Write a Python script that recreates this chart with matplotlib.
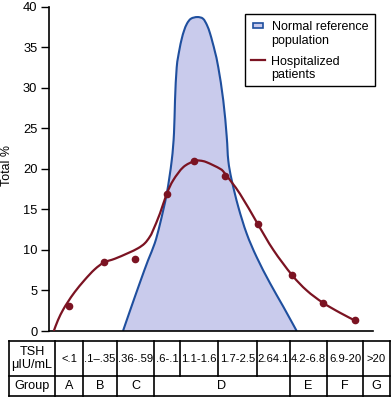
import matplotlib
matplotlib.use("Agg")
import matplotlib.pyplot as plt
from matplotlib.path import Path
from matplotlib.patches import PathPatch, Rectangle

plt.rcParams['font.family'] = ['Liberation Sans', 'DejaVu Sans']

# ---- data (x is position along the TSH axis, y is Total %) ----
normal_x = [123, 130, 140, 148, 154.7, 160, 166.7, 171.7, 174, 175, 176.7, 179.3, 181.7, 184,
            187, 191, 197.3, 203, 207, 210, 212.5, 215, 218.3, 223.3, 226.7, 228.3, 231.7,
            238.3, 246.7, 256.7, 270, 283.3, 296.7]
normal_y = [0, 2.5, 6.0, 8.7, 10.8, 13.2, 16.9, 21.0, 24.4, 28.4, 32.5, 34.6, 36.0, 37.0,
            37.9, 38.5, 38.7, 38.5, 37.7, 36.7, 35.6, 34.4, 32.5, 28.4, 24.0, 21.0, 18.6,
            15.3, 12.0, 9.1, 5.9, 3.0, 0]

hosp_pts_x = [69.3, 104.3, 135, 166.7, 194.3, 225, 257.7, 292, 322.7, 355.3]
hosp_pts_y = [3.1, 8.5, 8.9, 16.9, 21.0, 19.1, 13.2, 6.9, 3.5, 1.3]

trend_x = [53.8, 58, 63, 68, 74.7, 84.7, 94.7, 104, 114.7, 128, 138, 144.7, 149.7, 153, 160,
           166.7, 173.3, 183.3, 194.3, 200, 206.7, 220, 225, 240, 257.7, 273.3, 292, 306.7,
           322.7, 340, 355.3]
trend_y = [0, 1.35, 2.6, 3.6, 4.8, 6.3, 7.6, 8.45, 8.9, 9.6, 10.2, 10.8, 11.6, 12.4, 14.5,
           16.9, 18.6, 20.2, 20.95, 21.0, 20.8, 20.0, 19.4, 16.9, 13.2, 10.0, 6.9, 5.0,
           3.5, 2.25, 1.27]

tsh_labels = ["<.1", ".1\u2013.35", ".36-.59", ".6-.1", "1.1-1.6", "1.7-2.5", "2.64.1",
              "4.2-6.8", "6.9-20", ">20"]
group_labels = ["A", "B", "C", "D", "E", "F", "G"]
group_spans = [(0, 1), (1, 2), (2, 3), (3, 7), (7, 8), (8, 9), (9, 10)]
legend_labels = ["Normal reference\npopulation", "Hospitalized\npatients"]

yticks = [0, 5, 10, 15, 20, 25, 30, 35, 40]

BLUE = "#1f4f9e"
FILL = "#c9cbec"
RED = "#7b1322"


def smooth_path(xs, ys, close_to_base=False):
    """Cubic Bezier path (Catmull-Rom control points) through the given points."""
    pts = list(zip(xs, ys))
    n = len(pts)
    verts = [pts[0]]
    codes = [Path.MOVETO]
    for i in range(n - 1):
        p0 = pts[i - 1] if i > 0 else pts[i]
        p1 = pts[i]
        p2 = pts[i + 1]
        p3 = pts[i + 2] if i + 2 < n else pts[i + 1]
        c1 = (p1[0] + (p2[0] - p0[0]) / 6, p1[1] + (p2[1] - p0[1]) / 6)
        c2 = (p2[0] - (p3[0] - p1[0]) / 6, p2[1] - (p3[1] - p1[1]) / 6)
        verts += [c1, c2, p2]
        codes += [Path.CURVE4] * 3
    if close_to_base:
        verts += [(xs[0], ys[0]), (xs[0], ys[0])]
        codes += [Path.LINETO, Path.CLOSEPOLY]
    return Path(verts, codes)


W, H = 391, 397
fig = plt.figure(figsize=(W / 100, H / 100), dpi=100)

x0, x1, ytop, ybot = 48.5, 373, 6.5, 331
ax = fig.add_axes([x0 / W, 1 - ybot / H, (x1 - x0) / W, (ybot - ytop) / H])
ax.set_xlim(x0, x1)
ax.set_ylim(0, 40)

ax.add_patch(PathPatch(smooth_path(normal_x, normal_y, True), facecolor=FILL, lw=0, zorder=1))
ax.add_patch(PathPatch(smooth_path(normal_x, normal_y), facecolor='none', edgecolor=BLUE,
                       lw=1.5, zorder=2))
ax.add_patch(PathPatch(smooth_path(trend_x, trend_y), facecolor='none', edgecolor=RED,
                       lw=1.6, zorder=3))
ax.plot(hosp_pts_x, hosp_pts_y, 'o', color=RED, ms=4.5, zorder=4)

ax.set_yticks(yticks)
ax.set_xticks([])
ax.tick_params(axis='y', length=6, width=1, labelsize=9.3, pad=2.0, color='black')
for s in ['top', 'right']:
    ax.spines[s].set_visible(False)
ax.spines['left'].set_linewidth(1.2)
ax.spines['bottom'].set_linewidth(1.2)
ax.set_ylabel("Total %", fontsize=8.9)
ax.yaxis.set_label_coords((7 - x0) / (x1 - x0), (ybot - 166) / (ybot - ytop))
ax.yaxis.label.set_va('center')

# overlay in figure pixel coordinates: legend and table
tax = fig.add_axes([0, 0, 1, 1])
tax.set_xlim(0, W)
tax.set_ylim(H, 0)
tax.axis('off')

# legend
tax.add_patch(Rectangle((245, 14), 130, 72, facecolor='white', edgecolor='black', lw=1.0,
                        zorder=5))
tax.add_patch(Rectangle((252.7, 22.7), 10, 5.6, facecolor=FILL, edgecolor=BLUE, lw=1.2,
                        zorder=6))
tax.plot([250.7, 265], [60, 60], color=RED, lw=1.6, zorder=6)
fsl = 9.0
baselines = [[30.2, 43.8], [64.5, 77.8]]
for lab, bls in zip(legend_labels, baselines):
    for line, bl in zip(lab.split("\n"), bls):
        tax.text(271.5, bl, line, ha='left', va='baseline', fontsize=fsl, zorder=7)

# table
edges = [9, 55, 83, 117, 154, 180, 218, 257, 290, 327, 363, 390]
t_top, t_mid, t_bot = 341, 375.7, 396.2
lw = 1.2
for yy in (t_top, t_mid, t_bot):
    tax.plot([edges[0], edges[-1]], [yy, yy], color='black', lw=lw)
for e in (edges[0], edges[1], edges[-1]):
    tax.plot([e, e], [t_top, t_bot], color='black', lw=lw)
for e in edges[2:-1]:
    tax.plot([e, e], [t_top, t_mid], color='black', lw=lw)
col_edges = edges[1:]
for a, b in group_spans[:-1]:
    e = col_edges[b]
    tax.plot([e, e], [t_mid, t_bot], color='black', lw=lw)

fs = 9.1
tax.text((edges[0] + edges[1]) / 2, (t_top + t_mid) / 2, "TSH\n\u03bcIU/mL", ha='center',
         va='center', fontsize=fs, linespacing=1.05)
tax.text((edges[0] + edges[1]) / 2, (t_mid + t_bot) / 2 + 0.5, "Group", ha='center',
         va='center', fontsize=fs)
for i, lab in enumerate(tsh_labels):
    tax.text((col_edges[i] + col_edges[i + 1]) / 2, (t_top + t_mid) / 2 + 0.5, lab,
             ha='center', va='center', fontsize=8.1)
for (a, b), lab in zip(group_spans, group_labels):
    tax.text((col_edges[a] + col_edges[b]) / 2, (t_mid + t_bot) / 2 + 0.5, lab, ha='center',
             va='center', fontsize=fs)

fig.savefig("out.png", dpi=100)
